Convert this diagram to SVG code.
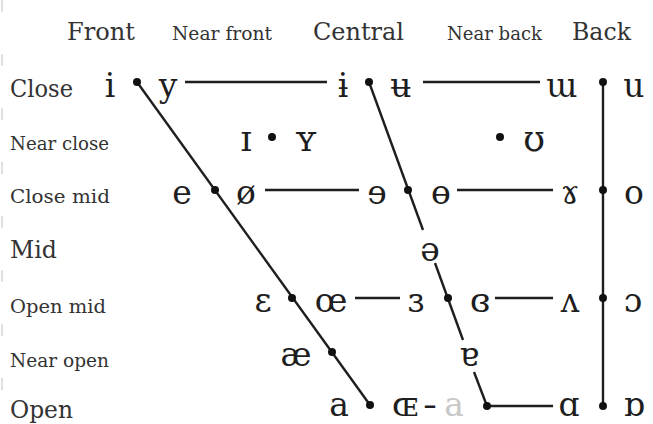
<svg xmlns="http://www.w3.org/2000/svg" width="653" height="424" viewBox="0 0 653 424">
<style>
.hd{font-family:"DejaVu Serif","Liberation Serif",serif;fill:#333}
.big{font-size:25px}
.sm{font-size:19px}
.v{font-family:"DejaVu Serif","Liberation Serif",serif;font-size:33px;fill:#1e1e1e;text-anchor:middle}
.sc{font-size:35px}
.ln{stroke:#1e1e1e;stroke-width:2.4;fill:none;stroke-linecap:butt}
.d{fill:#111}
</style>
<rect width="653" height="424" fill="#fff"/>
<line x1="2" y1="0" x2="2" y2="424" stroke="#d6d6d6" stroke-width="1.5" stroke-dasharray="12 42"/>
<g id="headers">
<text class="hd big" x="67" y="40" textLength="68" lengthAdjust="spacingAndGlyphs">Front</text>
<text class="hd sm" x="172" y="40" textLength="100" lengthAdjust="spacingAndGlyphs">Near front</text>
<text class="hd big" x="313" y="40" textLength="91" lengthAdjust="spacingAndGlyphs">Central</text>
<text class="hd sm" x="447" y="40" textLength="95" lengthAdjust="spacingAndGlyphs">Near back</text>
<text class="hd big" x="572" y="40" textLength="59" lengthAdjust="spacingAndGlyphs">Back</text>
</g>
<g id="rows">
<text class="hd big" x="10" y="97" textLength="63" lengthAdjust="spacingAndGlyphs">Close</text>
<text class="hd sm" x="10" y="150" textLength="99" lengthAdjust="spacingAndGlyphs">Near close</text>
<text class="hd sm" x="10" y="203" textLength="100" lengthAdjust="spacingAndGlyphs">Close mid</text>
<text class="hd big" x="10" y="258" textLength="47" lengthAdjust="spacingAndGlyphs">Mid</text>
<text class="hd sm" x="10" y="313" textLength="96" lengthAdjust="spacingAndGlyphs">Open mid</text>
<text class="hd sm" x="10" y="367" textLength="99" lengthAdjust="spacingAndGlyphs">Near open</text>
<text class="hd big" x="10" y="418" textLength="63" lengthAdjust="spacingAndGlyphs">Open</text>
</g>
<g id="connectors">
<line class="ln" x1="137" y1="82" x2="370" y2="405"/>
<line class="ln" x1="369" y1="82" x2="423" y2="230"/>
<line class="ln" x1="435" y1="263" x2="463" y2="340"/>
<line class="ln" x1="474" y1="372" x2="487" y2="406"/>
<line class="ln" x1="603" y1="82" x2="603" y2="406"/>
<line class="ln" x1="185" y1="82" x2="327" y2="82"/>
<line class="ln" x1="423" y1="82" x2="540" y2="82"/>
<line class="ln" x1="265" y1="190" x2="359" y2="190"/>
<line class="ln" x1="457" y1="190" x2="553" y2="190"/>
<line class="ln" x1="355" y1="298" x2="400" y2="298"/>
<line class="ln" x1="495" y1="298" x2="553" y2="298"/>
<line class="ln" x1="487" y1="406" x2="553" y2="406"/>
</g>
<g id="close-front"><text class="v" x="110" y="97">i</text><circle class="d" cx="137" cy="82" r="4"/><text class="v" x="168" y="97">y</text></g>
<g id="close-central"><text class="v" x="343" y="97">ɨ</text><circle class="d" cx="369" cy="82" r="4"/><text class="v" x="401" y="97">ʉ</text></g>
<g id="close-back"><text class="v" x="562" y="97">ɯ</text><circle class="d" cx="603" cy="82" r="4"/><text class="v" x="634" y="97">u</text></g>
<g id="nearclose-front"><text class="v sc" x="246" y="151">ɪ</text><circle class="d" cx="272" cy="137" r="4"/><text class="v sc" x="306" y="151">ʏ</text></g>
<g id="nearclose-back"><circle class="d" cx="500" cy="137" r="4"/><text class="v sc" x="534" y="151">ʊ</text></g>
<g id="closemid-front"><text class="v" x="182" y="204">e</text><circle class="d" cx="215" cy="190" r="4"/><text class="v" x="246" y="204">ø</text></g>
<g id="closemid-central"><text class="v" x="377" y="204">ɘ</text><circle class="d" cx="408" cy="190" r="4"/><text class="v" x="441" y="204">ɵ</text></g>
<g id="closemid-back"><text class="v" x="570" y="204">ɤ</text><circle class="d" cx="603" cy="190" r="4"/><text class="v" x="634" y="204">o</text></g>
<g id="mid-central"><text class="v" x="430" y="261">ə</text></g>
<g id="openmid-front"><text class="v" x="263" y="312">ɛ</text><circle class="d" cx="292" cy="298" r="4"/><text class="v" x="331" y="312">œ</text></g>
<g id="openmid-central"><text class="v" x="416" y="312">ɜ</text><circle class="d" cx="448" cy="298" r="4"/><text class="v" x="480" y="312">ɞ</text></g>
<g id="openmid-back"><text class="v" x="570" y="312">ʌ</text><circle class="d" cx="603" cy="298" r="4"/><text class="v" x="633" y="312">ɔ</text></g>
<g id="nearopen-front"><text class="v" x="296" y="366">æ</text><circle class="d" cx="332" cy="352" r="4"/></g>
<g id="nearopen-central"><text class="v" x="469" y="366">ɐ</text></g>
<g id="open-front"><text class="v" x="339" y="416">a</text><circle class="d" cx="370" cy="405" r="4"/><text class="v" x="405" y="416">ɶ</text><text class="v" x="430" y="416" textLength="14" lengthAdjust="spacingAndGlyphs">-</text><text class="v" x="454" y="416" style="fill:#c8c8c8">a</text></g>
<g id="open-central"><circle class="d" cx="487" cy="406" r="4"/></g>
<g id="open-back"><text class="v" x="569" y="416">ɑ</text><circle class="d" cx="603" cy="406" r="4"/><text class="v" x="634" y="416">ɒ</text></g>
</svg>
